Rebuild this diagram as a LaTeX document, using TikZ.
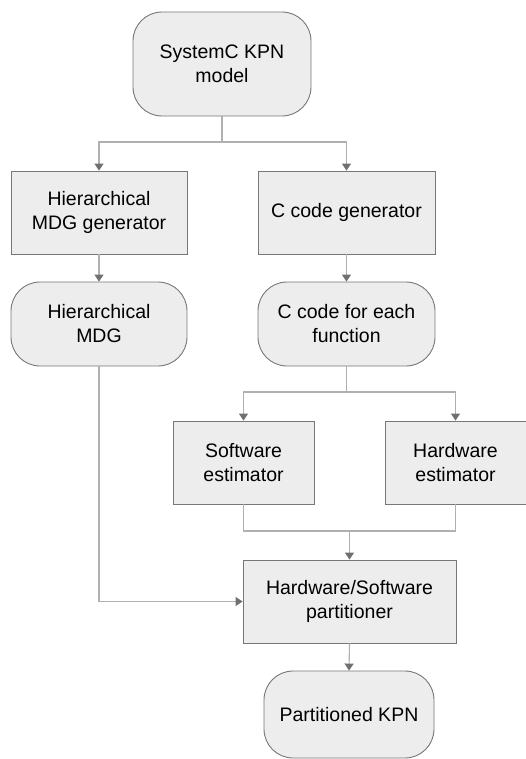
\documentclass[tikz,border=0pt]{standalone}
\usepackage{fontspec}
\setmainfont{Liberation Sans}
\usetikzlibrary{arrows.meta}
\definecolor{boxfill}{HTML}{EDEDED}
\definecolor{boxline}{HTML}{777777}
\definecolor{conn}{HTML}{B0B0B0}
\definecolor{tipc}{HTML}{707070}
\tikzset{
  base/.style={draw=boxline, fill=boxfill, line width=0.9pt, align=center, inner sep=0pt,
    font=\fontsize{19.5}{24}\selectfont, text=black},
  procbox/.style={base},
  termbox/.style={base, rounded corners=29pt},
  conline/.style={draw=conn, line width=1.1pt},
  arr/.style={conline, -{Triangle[length=7pt,width=9pt,color=tipc,fill=tipc]}}
}
\begin{document}
\begin{tikzpicture}[x=1pt,y=-1pt]
\useasboundingbox (0,0) rectangle (525,759);
\node[termbox, minimum width=178pt, minimum height=104pt] (sysc) at (222,64) {SystemC KPN\\model};
\node[procbox, minimum width=176pt, minimum height=83pt] (hgen) at (99,212.5) {Hierarchical\\MDG generator};
\node[procbox, minimum width=177pt, minimum height=83pt] (cgen) at (346.5,212.5) {C code generator};
\node[termbox, minimum width=176pt, minimum height=84pt] (hmdg) at (99,324) {Hierarchical\\MDG};
\node[termbox, minimum width=177pt, minimum height=84pt] (cfun) at (346.5,324) {C code for each\\function};
\node[procbox, minimum width=141pt, minimum height=83pt] (swe) at (243.5,462.5) {Software\\estimator};
\node[procbox, minimum width=141pt, minimum height=83pt] (hwe) at (455.5,462.5) {Hardware\\estimator};
\node[procbox, minimum width=213pt, minimum height=83pt] (part) at (349.5,601.5) {Hardware/Software\\partitioner};
\node[termbox, minimum width=170pt, minimum height=87pt] (pkpn) at (349,714.5) {Partitioned KPN};

\coordinate (b1) at (222,142);
\coordinate (b2) at (346.5,392);
\coordinate (b3) at (349.5,531);

\draw[conline] (sysc.south) -- (b1);
\draw[arr] (b1) -| (hgen.north);
\draw[arr] (b1) -| (cgen.north);
\draw[arr] (hgen.south) -- (hmdg.north);
\draw[arr] (cgen.south) -- (cfun.north);
\draw[conline] (cfun.south) -- (b2);
\draw[arr] (b2) -| (swe.north);
\draw[arr] (b2) -| (hwe.north);
\draw[conline] (swe.south) |- (b3);
\draw[conline] (hwe.south) |- (b3);
\draw[arr] (b3) -- (part.north);
\draw[arr] (hmdg.south) |- (part.west);
\draw[arr] (part.south) -- (pkpn.north);
\end{tikzpicture}
\end{document}
